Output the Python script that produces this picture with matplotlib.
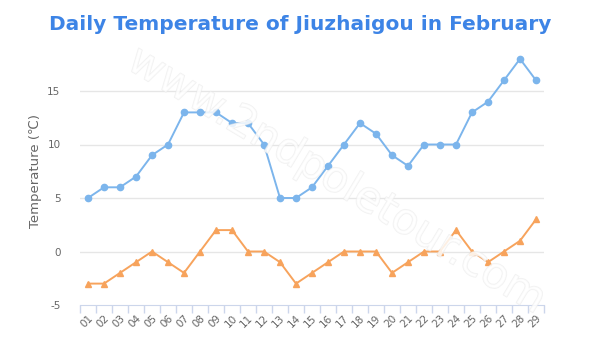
import matplotlib
matplotlib.use('Agg')
import matplotlib.pyplot as plt
import matplotlib.patheffects as pe
import numpy as np

# 数据 (单位: ℃)
days = ['%02d' % d for d in range(1, 30)]
high_temps = [5, 6, 6, 7, 9, 10, 13, 13, 13, 12, 12, 10, 5, 5, 6, 8, 10, 12, 11, 9,
              8, 10, 10, 10, 13, 14, 16, 18, 16]
low_temps = [-3, -3, -2, -1, 0, -1, -2, 0, 2, 2, 0, 0, -1, -3, -2, -1, 0, 0, 0, -2,
             -1, 0, 0, 2, 0, -1, 0, 1, 3]
y_ticks = [-5, 0, 5, 10, 15]

BLUE = '#7cb5ec'
ORANGE = '#f7a35c'
GRID = '#e6e6e6'
AXIS = '#ccd6eb'
LABEL = '#666666'

fig = plt.figure(figsize=(6, 3.4), dpi=100)
ax = fig.add_axes([80 / 600, 1 - 305 / 340, 464 / 600, 267.5 / 340])

x = np.arange(len(days))
ax.plot(x, high_temps, color=BLUE, linewidth=1.4, marker='o', markersize=4.5,
        clip_on=False, zorder=3)
ax.plot(x, low_temps, color=ORANGE, linewidth=1.4, marker='^', markersize=5,
        clip_on=False, zorder=3)

ax.set_xlim(-0.5, len(days) - 0.5)
ax.set_ylim(-5, 20)
ax.set_yticks(y_ticks)
ax.set_yticklabels([str(t) for t in y_ticks], fontsize=7.5, color=LABEL)
for t in y_ticks[1:]:
    ax.axhline(t, color=GRID, linewidth=1, zorder=0)

ax.set_xticks(x)
ax.set_xticklabels(days, rotation=45, fontsize=7.5, color=LABEL,
                   ha='right', va='top', rotation_mode='anchor')
ax.set_xticks(np.arange(len(days) + 1) - 0.5, minor=True)
ax.tick_params(axis='x', which='major', length=0, pad=6)
ax.tick_params(axis='x', which='minor', length=6, color=AXIS, width=1)
ax.tick_params(axis='y', length=0, pad=14)

for side in ['top', 'right', 'left']:
    ax.spines[side].set_visible(False)
ax.spines['bottom'].set_color(AXIS)

ax.set_ylabel('Temperature (℃)', fontsize=9.5, color=LABEL, labelpad=4,
              family=['DejaVu Sans', 'Noto Sans CJK SC'])

fig.text(0.5, 1 - 25 / 340, 'Daily Temperature of Jiuzhaigou in February',
         ha='center', va='center', fontsize=14.5, fontweight='bold', color='#3d84e6')

# 水印
fig.text(0.56, 0.47, 'www.2ndpoletour.com', rotation=-31, ha='center', va='center',
         fontsize=31, color='white', alpha=0.6, zorder=5,
         path_effects=[pe.withStroke(linewidth=1.0, foreground='#e8e8e8')])

fig.savefig('out.png', dpi=100, facecolor='white')
